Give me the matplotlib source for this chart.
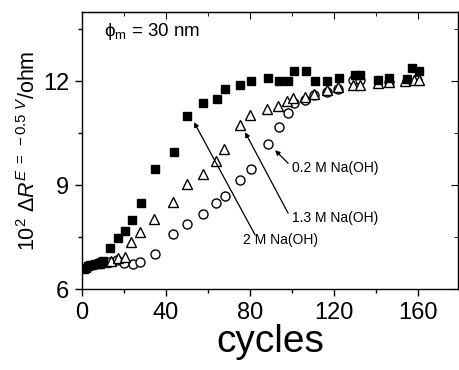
import matplotlib
matplotlib.use("Agg")
import matplotlib.pyplot as plt

plt.rcParams['font.family'] = ['Liberation Sans', 'DejaVu Sans']
plt.rcParams['mathtext.fontset'] = 'custom'
plt.rcParams['mathtext.rm'] = 'Liberation Sans'
plt.rcParams['mathtext.it'] = 'Liberation Sans:italic'
plt.rcParams['mathtext.bf'] = 'Liberation Sans:bold'

# 2 M Na(OH) - filled squares
sq_x = [1, 2, 3, 4, 5, 6, 7, 8, 9, 10, 13.2, 17.1, 20.3, 23.8, 27.9, 34.8, 43.8, 50.2, 57.8, 64.1,
        68.1, 75.2, 80.5, 88.3, 94, 98.2, 101, 106.7, 111, 116.5, 122.5, 130, 132.4, 141, 145.9,
        154.6, 157, 160.2]
sq_y = [6.58, 6.62, 6.65, 6.68, 6.7, 6.72, 6.73, 6.75, 6.77, 6.8, 7.19, 7.46, 7.67, 7.99, 8.49, 9.48,
        9.96, 10.99, 11.38, 11.48, 11.79, 11.88, 12.0, 12.09, 12.0, 12.0, 12.29, 12.29, 12.0, 12.0,
        12.09, 12.19, 12.19, 12.03, 12.09, 12.06, 12.38, 12.29]

# 1.3 M Na(OH) - open triangles
tri_x = [8, 11, 14, 17.1, 20.3, 23.5, 27.5, 34.4, 43.2, 50.2, 57.5, 63.7, 67.8, 75.2, 80, 87.9,
         93.5, 97.5, 100.6, 106.2, 110.2, 116.5, 122, 129.2, 132.4, 141, 145.9, 153.8, 157.8, 160.2]
tri_y = [6.75, 6.78, 6.81, 6.9, 6.93, 7.35, 7.65, 8.02, 8.52, 9.02, 9.31, 9.69, 10.03, 10.73, 11.02,
         11.21, 11.28, 11.42, 11.52, 11.55, 11.62, 11.74, 11.82, 11.88, 11.88, 11.94, 11.97, 12.0,
         12.03, 12.03]

# 0.2 M Na(OH) - open circles
cir_x = [10.2, 13.2, 16.5, 20.2, 24.3, 27.5, 34.6, 43.5, 50.2, 57.8, 63.8, 68.1, 75.2, 80.5, 88.7,
         94, 97.9, 101, 106.2, 110.5, 116.5, 122, 129.2, 132.4, 145.9, 154.6, 159.4]
cir_y = [6.79, 6.79, 6.84, 6.74, 6.71, 6.77, 7.0, 7.58, 7.87, 8.18, 8.47, 8.68, 9.16, 9.48, 10.18,
         10.68, 11.09, 11.36, 11.47, 11.6, 11.69, 11.79, 12.03, 12.03, 11.98, 12.0, 12.03]

x_ticks = [0, 40, 80, 120, 160]
y_ticks = [6, 9, 12]

fig = plt.figure(figsize=(4.59, 3.70), dpi=100)
ax = fig.add_axes([0.1786, 0.2189, 0.998 - 0.1786, 0.9676 - 0.2189])

ax.plot(cir_x, cir_y, 'o', mfc='white', mec='black', ms=6.5, mew=1.0, ls='none')
ax.plot(tri_x, tri_y, '^', mfc='white', mec='black', ms=6.5, mew=1.0, ls='none')
ax.plot(sq_x, sq_y, 's', mfc='black', mec='black', ms=6, ls='none')

ax.set_xlim(0, 179)
ax.set_ylim(6, 14)
ax.set_xticks(x_ticks)
ax.set_yticks(y_ticks)
ax.set_xticks([20, 60, 100, 140], minor=True)
ax.set_yticks([7.5, 10.5, 13.5], minor=True)
ax.tick_params(axis='both', which='major', labelsize=17, length=5, width=1, direction='out')
ax.tick_params(axis='both', which='minor', length=3, width=1, direction='out')
ax.tick_params(axis='x', pad=4)
ax.tick_params(axis='y', pad=4)
for s in ax.spines.values():
    s.set_linewidth(1.0)

# mirrored ticks (pointing inward on top/right)
axt = ax.secondary_xaxis('top')
axt.set_xticks(x_ticks)
axt.set_xticks([20, 60, 100, 140], minor=True)
axt.tick_params(which='major', direction='in', length=5, labeltop=False)
axt.tick_params(which='minor', direction='in', length=3)
axt.set_xticklabels([])
axr = ax.secondary_yaxis('right')
axr.set_yticks(y_ticks)
axr.set_yticks([7.5, 10.5, 13.5], minor=True)
axr.tick_params(which='major', direction='in', length=5)
axr.tick_params(which='minor', direction='in', length=3)
axr.set_yticklabels([])

ax.set_xlabel('cycles', fontsize=28, labelpad=0)
ax.set_ylabel(r'10$^2$ $\Delta R^{E\ =\ -0.5\ V}$/ohm', fontsize=15.5, labelpad=2)

ax.text(10.5, 13.45, 'ϕ$_{\\rm m}$ = 30 nm', fontsize=13.5, va='center', ha='left')

arrow = dict(arrowstyle='-|>', color='black', lw=0.9, mutation_scale=7, shrinkA=0, shrinkB=0)
ax.annotate('', xy=(53.3, 10.82), xytext=(82.4, 7.56), arrowprops=arrow)
ax.annotate('', xy=(77.6, 10.53), xytext=(98.1, 8.19), arrowprops=arrow)
ax.annotate('', xy=(91.9, 10.01), xytext=(98.1, 9.63), arrowprops=arrow)
ax.text(76.7, 7.41, '2 M Na(OH)', fontsize=10, va='center', ha='left')
ax.text(100, 8.05, '1.3 M Na(OH)', fontsize=10, va='center', ha='left')
ax.text(100, 9.49, '0.2 M Na(OH)', fontsize=10, va='center', ha='left')

fig.savefig('out.png', dpi=100)
